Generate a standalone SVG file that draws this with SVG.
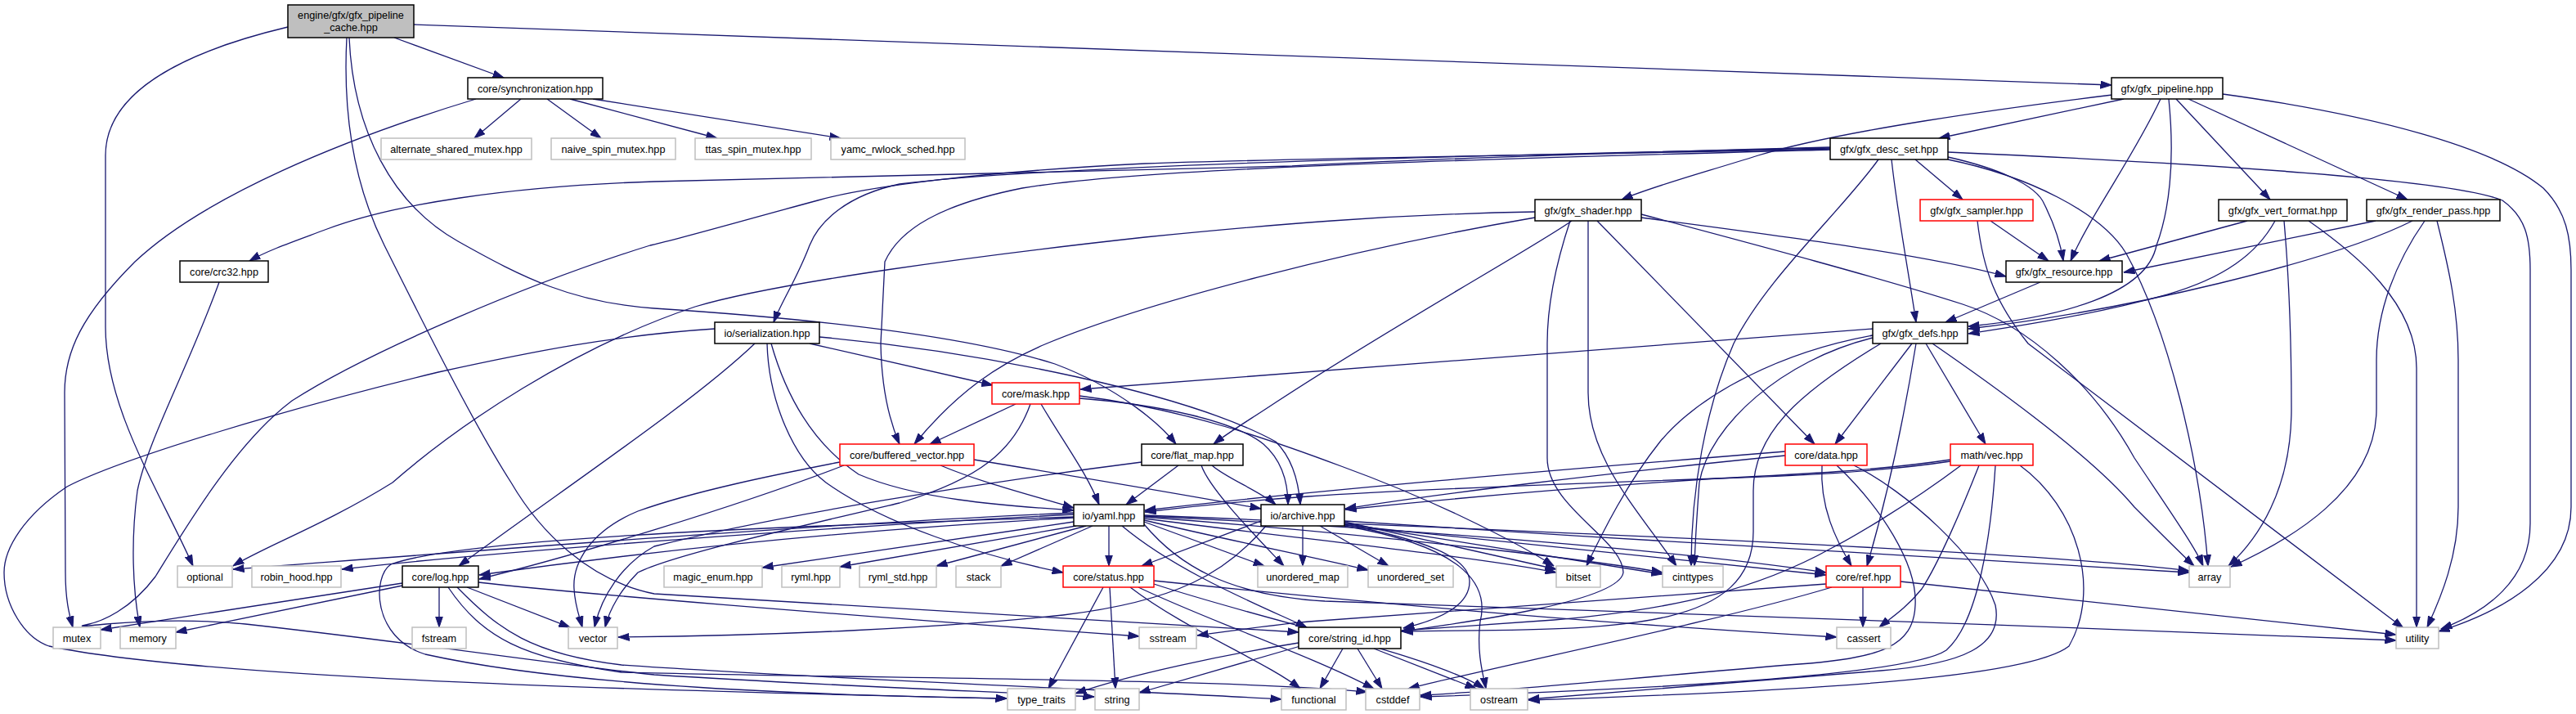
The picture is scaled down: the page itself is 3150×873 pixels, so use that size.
<svg xmlns="http://www.w3.org/2000/svg" width="3150" height="873" viewBox="0 0 3150 873">
<style>
.e{fill:none;stroke:#191970;stroke-width:1.3;marker-end:url(#a)}
.b rect{fill:#fff;stroke:#000;stroke-width:1.5}
.r rect{fill:#fff;stroke:#ff0000;stroke-width:1.5}
.g rect{fill:#fff;stroke:#bfbfbf;stroke-width:1.5}
.root rect{fill:#bfbfbf;stroke:#000;stroke-width:1.5}
text{font-family:"Liberation Sans",Arial,sans-serif;font-size:12.7px;text-anchor:middle;fill:#000}
</style>
<defs>
<marker id="a" viewBox="0 0 14 10" refX="13.5" refY="5" markerWidth="14" markerHeight="10" markerUnits="userSpaceOnUse" orient="auto"><path d="M0,0.5 L13.5,5 L0,9.5 z" fill="#191970" stroke="#191970" stroke-width="1"/></marker>
</defs>
<rect width="3150" height="873" fill="#fff"/>
<g id="edges">
<path class="e" d="M482,46 L616,95"/>
<path class="e" d="M506,30 L2582,104"/>
<path class="e" d="M352,33 C230,62 129,110 129,190 L129,400 C129,500 195,600 236,692"/>
<path class="e" d="M427,46 C432,160 480,250 560,295 C640,340 700,370 800,377 C1000,390 1180,410 1290,445 C1370,475 1420,520 1438,543"/>
<path class="e" d="M424,46 C418,160 440,240 470,300 C520,400 580,520 625,590 C660,650 720,710 800,726 L1588,773"/>
<path class="e" d="M582,121 C420,170 250,240 165,320 C100,385 79,430 79,480 L80,700 C80,735 85,752 89,767"/>
<path class="e" d="M637,121 L580,169"/>
<path class="e" d="M669,121 L735,169"/>
<path class="e" d="M697,121 L877,169"/>
<path class="e" d="M725,121 L1028,169"/>
<path class="e" d="M2597,121 L2371,169"/>
<path class="e" d="M2583,116 C2450,132 2250,160 2150,190 C2080,212 2020,228 1983,244"/>
<path class="e" d="M2642,121 C2610,190 2555,265 2532,319"/>
<path class="e" d="M2652,121 C2660,200 2652,260 2637,300 C2625,360 2520,388 2407,399"/>
<path class="e" d="M2661,121 L2776,244"/>
<path class="e" d="M2676,121 L2944,244"/>
<path class="e" d="M2718,115 C2900,140 3050,180 3110,230 C3138,258 3144,290 3144,330 L3144,620 C3144,700 3060,748 2982,772"/>
<path class="e" d="M2238,180 C2000,186 1700,196 1580,203 L800,222 C620,228 480,250 400,280 C360,295 330,305 305,319"/>
<path class="e" d="M2238,182 C1900,190 1600,193 1400,200 C1200,210 1060,228 1000,245 C900,272 820,295 795,300 C650,345 450,430 357,490 C290,540 230,640 190,705 C160,745 125,760 105,764 C95,766 100,766 130,763 C200,757 250,758 300,763 C500,785 700,815 800,825 C1000,838 1200,845 1338,852"/>
<path class="e" d="M2238,181 C1900,188 1300,200 1100,225 C1030,240 1000,275 990,300 C975,340 955,370 946,394"/>
<path class="e" d="M2238,183 C1800,195 1400,205 1250,230 C1150,250 1100,280 1082,320 L1077,420 C1078,480 1090,520 1100,543"/>
<path class="e" d="M2342,195 L2400,244"/>
<path class="e" d="M2382,192 C2440,205 2490,225 2500,250 C2515,280 2520,300 2523,319"/>
<path class="e" d="M2313,195 C2320,260 2335,340 2343,394"/>
<path class="e" d="M2382,195 C2480,215 2570,260 2600,310 C2650,400 2690,560 2700,692"/>
<path class="e" d="M2382,186 C2700,200 3000,220 3060,245 C3088,265 3094,290 3094,330 L3094,640 C3094,710 3040,748 2985,769"/>
<path class="e" d="M2297,195 C2250,260 2160,340 2120,420 C2085,500 2068,600 2068,692"/>
<path class="e" d="M2434,270 L2505,319"/>
<path class="e" d="M2418,270 C2425,330 2440,370 2480,420 L2939,768"/>
<path class="e" d="M2007,266 C2150,285 2350,310 2453,338"/>
<path class="e" d="M2007,262 C2150,300 2300,340 2400,372 C2480,398 2560,470 2610,560 C2650,620 2685,670 2694,692"/>
<path class="e" d="M1953,270 L2219,543"/>
<path class="e" d="M1922,270 C1880,300 1700,400 1560,492 C1530,512 1500,530 1484,543"/>
<path class="e" d="M1877,266 C1650,305 1400,370 1280,420 C1220,445 1170,480 1118,543"/>
<path class="e" d="M1877,259 C1700,262 1550,275 1400,290 C1200,312 950,345 850,375 C700,425 560,520 480,590 C400,640 320,670 285,692"/>
<path class="e" d="M1942,270 L1942,480 C1942,560 2000,620 2050,692"/>
<path class="e" d="M1920,270 C1900,330 1892,380 1892,420 L1892,560 C1892,620 1985,660 1985,700 C1980,735 1800,760 1714,772"/>
<path class="e" d="M2748,270 L2567,319"/>
<path class="e" d="M2782,270 C2760,310 2720,340 2650,360 C2560,385 2460,400 2407,408"/>
<path class="e" d="M2793,270 C2800,350 2802,420 2802,500 C2802,600 2760,660 2725,692"/>
<path class="e" d="M2823,270 C2880,310 2955,370 2955,450 L2955,767"/>
<path class="e" d="M2905,270 L2597,333"/>
<path class="e" d="M2950,270 C2850,320 2600,380 2407,402"/>
<path class="e" d="M2965,270 C2930,320 2906,380 2906,440 L2906,500 C2906,600 2800,660 2728,693"/>
<path class="e" d="M2980,270 C2995,330 3006,380 3006,440 L3006,620 C3006,680 2985,730 2968,767"/>
<path class="e" d="M268,345 C230,450 180,540 168,600 C160,660 162,720 171,767"/>
<path class="e" d="M2495,345 L2379,394"/>
<path class="e" d="M874,402 C750,410 650,430 536,455 C350,500 150,560 82,595 C30,630 5,670 5,700 C5,740 30,780 60,790 C250,830 800,845 1231,854"/>
<path class="e" d="M923,420 C850,490 700,590 561,692"/>
<path class="e" d="M990,420 L1214,471"/>
<path class="e" d="M938,420 C940,490 970,560 1010,590 C1080,640 1200,680 1300,700"/>
<path class="e" d="M943,420 C960,480 990,540 1050,580 C1120,610 1220,618 1313,624"/>
<path class="e" d="M1002,412 C1200,430 1450,480 1560,540 C1580,560 1588,590 1590,617"/>
<path class="e" d="M2290,402 L1321,476"/>
<path class="e" d="M2338,420 L2244,543"/>
<path class="e" d="M2343,420 C2330,500 2310,600 2283,692"/>
<path class="e" d="M2355,420 L2428,543"/>
<path class="e" d="M2363,420 C2450,480 2560,560 2610,620 C2650,660 2670,680 2683,692"/>
<path class="e" d="M2290,410 C2180,430 2080,480 2030,540 C1990,590 1960,650 1940,692"/>
<path class="e" d="M2290,413 C2180,440 2090,520 2078,590 C2075,630 2073,660 2072,692"/>
<path class="e" d="M2300,420 C2200,480 2144,530 2144,600 L2144,650 C2144,780 1950,768 1714,772"/>
<path class="e" d="M1242,494 L1137,543"/>
<path class="e" d="M1273,494 C1300,540 1330,580 1344,617"/>
<path class="e" d="M1260,494 C1240,550 1200,585 1100,615 C950,650 820,680 780,700 C760,720 745,745 740,767"/>
<path class="e" d="M1320,484 C1450,500 1560,540 1640,570 C1750,610 1850,660 1900,692"/>
<path class="e" d="M1320,487 C1420,495 1510,515 1545,543 C1570,565 1575,595 1575,617"/>
<path class="e" d="M1150,569 C1200,590 1260,605 1313,621"/>
<path class="e" d="M1191,562 C1300,580 1450,605 1542,622"/>
<path class="e" d="M1027,565 C950,580 850,600 780,625 C720,650 700,690 702,720 C703,740 708,752 712,767"/>
<path class="e" d="M1032,569 C900,620 700,680 586,708"/>
<path class="e" d="M1441,569 L1377,617"/>
<path class="e" d="M1482,569 C1500,585 1540,600 1560,617"/>
<path class="e" d="M1469,569 C1480,600 1540,660 1570,692"/>
<path class="e" d="M1396,565 C1200,590 950,630 800,668 C760,690 735,730 727,767"/>
<path class="e" d="M2183,552 C1900,575 1600,600 1400,624"/>
<path class="e" d="M2183,557 C1950,580 1750,605 1645,622"/>
<path class="e" d="M2228,569 C2225,620 2245,660 2264,692"/>
<path class="e" d="M2246,569 C2300,620 2345,690 2342,740 C2340,790 2300,805 2200,812 C2000,828 1850,845 1737,850"/>
<path class="e" d="M2267,569 C2330,600 2420,680 2440,740 C2450,790 2400,812 2300,820 C2100,835 1950,848 1869,855"/>
<path class="e" d="M2385,564 C2300,577 2200,582 2100,585 C1900,592 1700,600 1600,607 C1500,614 1450,620 1400,626"/>
<path class="e" d="M2385,562 C2300,575 2200,580 2100,585 C1900,598 1750,612 1645,623"/>
<path class="e" d="M2420,569 C2400,620 2370,690 2350,720 C2330,745 2310,757 2298,767"/>
<path class="e" d="M2398,569 C2330,620 2260,660 2240,670 C2150,720 2050,745 1900,758 C1800,765 1750,768 1714,771"/>
<path class="e" d="M2440,569 C2435,650 2420,760 2380,795 C2340,822 2100,840 1737,852"/>
<path class="e" d="M2470,569 C2540,620 2570,720 2530,790 C2480,830 2200,845 1869,856"/>
<path class="e" d="M1313,627 C1000,640 500,680 285,696"/>
<path class="e" d="M1313,629 C1000,645 600,675 418,696"/>
<path class="e" d="M1313,633 C1000,650 750,680 586,703"/>
<path class="e" d="M1313,638 L932,694"/>
<path class="e" d="M1316,643 L1027,693"/>
<path class="e" d="M1328,643 L1145,692"/>
<path class="e" d="M1336,643 L1224,692"/>
<path class="e" d="M1356,643 L1356,692"/>
<path class="e" d="M1399,638 L1546,692"/>
<path class="e" d="M1399,636 C1500,660 1600,680 1673,697"/>
<path class="e" d="M1399,634 C1600,660 1800,680 1903,700"/>
<path class="e" d="M1399,632 C1700,655 1950,685 2033,700"/>
<path class="e" d="M1399,631 C1800,650 2100,680 2233,700"/>
<path class="e" d="M1399,630 C1900,650 2500,675 2677,698"/>
<path class="e" d="M1399,641 C1440,690 1500,728 1620,735 C1900,745 2500,765 2930,783"/>
<path class="e" d="M1372,643 C1440,700 1540,740 1598,767"/>
<path class="e" d="M1313,632 C900,645 560,660 478,690 C455,705 455,780 520,800 C700,840 1000,850 1231,854"/>
<path class="e" d="M1593,643 L1593,692"/>
<path class="e" d="M1614,643 L1698,692"/>
<path class="e" d="M1644,638 L1903,696"/>
<path class="e" d="M1644,640 L2033,702"/>
<path class="e" d="M1644,642 L2233,703"/>
<path class="e" d="M1644,637 C2000,660 2400,685 2677,700"/>
<path class="e" d="M1644,641 C1740,660 1795,680 1797,710 C1798,740 1760,758 1716,768"/>
<path class="e" d="M1542,637 L1396,692"/>
<path class="e" d="M1548,643 C1500,700 1440,735 1300,752 C1150,768 950,777 756,779"/>
<path class="e" d="M1644,643 C1800,670 1820,720 1810,760 C1805,800 1815,830 1817,842"/>
<path class="e" d="M492,713 L123,770"/>
<path class="e" d="M492,716 L215,773"/>
<path class="e" d="M537,718 L537,767"/>
<path class="e" d="M571,718 L697,767"/>
<path class="e" d="M585,712 C700,725 1000,750 1393,778"/>
<path class="e" d="M559,718 C610,770 650,800 760,813 C1000,830 1400,845 1567,855"/>
<path class="e" d="M548,718 C590,780 640,805 760,822 C1100,830 1500,830 1672,846"/>
<path class="e" d="M1349,718 L1282,842"/>
<path class="e" d="M1357,718 L1364,842"/>
<path class="e" d="M1382,718 C1450,770 1550,810 1590,842"/>
<path class="e" d="M1392,718 C1480,760 1600,800 1680,842"/>
<path class="e" d="M1411,714 C1550,760 1750,800 1815,842"/>
<path class="e" d="M1411,710 C1700,740 2000,765 2246,779"/>
<path class="e" d="M2278,718 L2278,767"/>
<path class="e" d="M2324,711 L2930,776"/>
<path class="e" d="M2233,714 L1600,760 C1540,766 1500,772 1464,777"/>
<path class="e" d="M2240,718 C2100,760 1850,810 1722,842"/>
<path class="e" d="M1642,793 L1614,842"/>
<path class="e" d="M1660,793 L1690,842"/>
<path class="e" d="M1680,793 L1805,842"/>
<path class="e" d="M1590,790 C1520,810 1450,830 1393,847"/>
<path class="e" d="M1588,786 C1500,800 1380,825 1315,848"/>
</g>
<g id="n_root" class="root"><rect x="352" y="6" width="154" height="40"/><text x="429" y="22.5">engine/gfx/gfx_pipeline</text><text x="429" y="37.5">_cache.hpp</text></g>
<g id="n_sync" class="b"><rect x="572" y="95" width="165" height="26"/><text x="654.5" y="112.5">core/synchronization.hpp</text></g>
<g id="n_pipeline" class="b"><rect x="2582" y="95" width="136" height="26"/><text x="2650" y="112.5">gfx/gfx_pipeline.hpp</text></g>
<g id="n_alt" class="g"><rect x="466" y="169" width="184" height="26"/><text x="558" y="186.5">alternate_shared_mutex.hpp</text></g>
<g id="n_naive" class="g"><rect x="674" y="169" width="152" height="26"/><text x="750" y="186.5">naive_spin_mutex.hpp</text></g>
<g id="n_ttas" class="g"><rect x="850" y="169" width="142" height="26"/><text x="921" y="186.5">ttas_spin_mutex.hpp</text></g>
<g id="n_yamc" class="g"><rect x="1016" y="169" width="164" height="26"/><text x="1098" y="186.5">yamc_rwlock_sched.hpp</text></g>
<g id="n_descset" class="b"><rect x="2238" y="169" width="144" height="26"/><text x="2310" y="186.5">gfx/gfx_desc_set.hpp</text></g>
<g id="n_shader" class="b"><rect x="1877" y="244" width="130" height="26"/><text x="1942" y="261.5">gfx/gfx_shader.hpp</text></g>
<g id="n_sampler" class="r"><rect x="2348" y="244" width="138" height="26"/><text x="2417" y="261.5">gfx/gfx_sampler.hpp</text></g>
<g id="n_vertfmt" class="b"><rect x="2713" y="244" width="157" height="26"/><text x="2791.5" y="261.5">gfx/gfx_vert_format.hpp</text></g>
<g id="n_renderpass" class="b"><rect x="2894" y="244" width="163" height="26"/><text x="2975.5" y="261.5">gfx/gfx_render_pass.hpp</text></g>
<g id="n_crc32" class="b"><rect x="220" y="319" width="108" height="26"/><text x="274" y="336.5">core/crc32.hpp</text></g>
<g id="n_resource" class="b"><rect x="2453" y="319" width="142" height="26"/><text x="2524" y="336.5">gfx/gfx_resource.hpp</text></g>
<g id="n_serial" class="b"><rect x="874" y="394" width="128" height="26"/><text x="938" y="411.5">io/serialization.hpp</text></g>
<g id="n_defs" class="b"><rect x="2290" y="394" width="116" height="26"/><text x="2348" y="411.5">gfx/gfx_defs.hpp</text></g>
<g id="n_mask" class="r"><rect x="1213" y="468" width="107" height="26"/><text x="1266.5" y="485.5">core/mask.hpp</text></g>
<g id="n_bufvec" class="r"><rect x="1027" y="543" width="164" height="26"/><text x="1109" y="560.5">core/buffered_vector.hpp</text></g>
<g id="n_flatmap" class="b"><rect x="1396" y="543" width="124" height="26"/><text x="1458" y="560.5">core/flat_map.hpp</text></g>
<g id="n_data" class="r"><rect x="2183" y="543" width="100" height="26"/><text x="2233" y="560.5">core/data.hpp</text></g>
<g id="n_vec" class="r"><rect x="2385" y="543" width="101" height="26"/><text x="2435.5" y="560.5">math/vec.hpp</text></g>
<g id="n_yaml" class="b"><rect x="1313" y="617" width="86" height="26"/><text x="1356" y="634.5">io/yaml.hpp</text></g>
<g id="n_archive" class="b"><rect x="1542" y="617" width="102" height="26"/><text x="1593" y="634.5">io/archive.hpp</text></g>
<g id="n_optional" class="g"><rect x="217" y="692" width="67" height="26"/><text x="250.5" y="709.5">optional</text></g>
<g id="n_robin" class="g"><rect x="308" y="692" width="109" height="26"/><text x="362.5" y="709.5">robin_hood.hpp</text></g>
<g id="n_log" class="b"><rect x="492" y="692" width="93" height="26"/><text x="538.5" y="709.5">core/log.hpp</text></g>
<g id="n_magic" class="g"><rect x="812" y="692" width="120" height="26"/><text x="872" y="709.5">magic_enum.hpp</text></g>
<g id="n_ryml" class="g"><rect x="956" y="692" width="71" height="26"/><text x="991.5" y="709.5">ryml.hpp</text></g>
<g id="n_rymlstd" class="g"><rect x="1051" y="692" width="94" height="26"/><text x="1098" y="709.5">ryml_std.hpp</text></g>
<g id="n_stack" class="g"><rect x="1169" y="692" width="55" height="26"/><text x="1196.5" y="709.5">stack</text></g>
<g id="n_status" class="r"><rect x="1300" y="692" width="111" height="26"/><text x="1355.5" y="709.5">core/status.hpp</text></g>
<g id="n_umap" class="g"><rect x="1538" y="692" width="110" height="26"/><text x="1593" y="709.5">unordered_map</text></g>
<g id="n_uset" class="g"><rect x="1673" y="692" width="104" height="26"/><text x="1725" y="709.5">unordered_set</text></g>
<g id="n_bitset" class="g"><rect x="1903" y="692" width="54" height="26"/><text x="1930" y="709.5">bitset</text></g>
<g id="n_cinttypes" class="g"><rect x="2033" y="692" width="74" height="26"/><text x="2070" y="709.5">cinttypes</text></g>
<g id="n_ref" class="r"><rect x="2233" y="692" width="91" height="26"/><text x="2278.5" y="709.5">core/ref.hpp</text></g>
<g id="n_array" class="g"><rect x="2677" y="692" width="50" height="26"/><text x="2702" y="709.5">array</text></g>
<g id="n_mutex" class="g"><rect x="65" y="767" width="58" height="26"/><text x="94" y="784.5">mutex</text></g>
<g id="n_memory" class="g"><rect x="147" y="767" width="68" height="26"/><text x="181" y="784.5">memory</text></g>
<g id="n_fstream" class="g"><rect x="504" y="767" width="66" height="26"/><text x="537" y="784.5">fstream</text></g>
<g id="n_vector" class="g"><rect x="695" y="767" width="60" height="26"/><text x="725" y="784.5">vector</text></g>
<g id="n_sstream" class="g"><rect x="1393" y="767" width="70" height="26"/><text x="1428" y="784.5">sstream</text></g>
<g id="n_strid" class="b"><rect x="1588" y="767" width="125" height="26"/><text x="1650.5" y="784.5">core/string_id.hpp</text></g>
<g id="n_cassert" class="g"><rect x="2246" y="767" width="66" height="26"/><text x="2279" y="784.5">cassert</text></g>
<g id="n_utility" class="g"><rect x="2930" y="767" width="52" height="26"/><text x="2956" y="784.5">utility</text></g>
<g id="n_typetraits" class="g"><rect x="1232" y="842" width="83" height="26"/><text x="1273.5" y="859.5">type_traits</text></g>
<g id="n_string" class="g"><rect x="1339" y="842" width="54" height="26"/><text x="1366" y="859.5">string</text></g>
<g id="n_functional" class="g"><rect x="1567" y="842" width="79" height="26"/><text x="1606.5" y="859.5">functional</text></g>
<g id="n_cstddef" class="g"><rect x="1670" y="842" width="66" height="26"/><text x="1703" y="859.5">cstddef</text></g>
<g id="n_ostream" class="g"><rect x="1798" y="842" width="70" height="26"/><text x="1833" y="859.5">ostream</text></g>
</svg>
